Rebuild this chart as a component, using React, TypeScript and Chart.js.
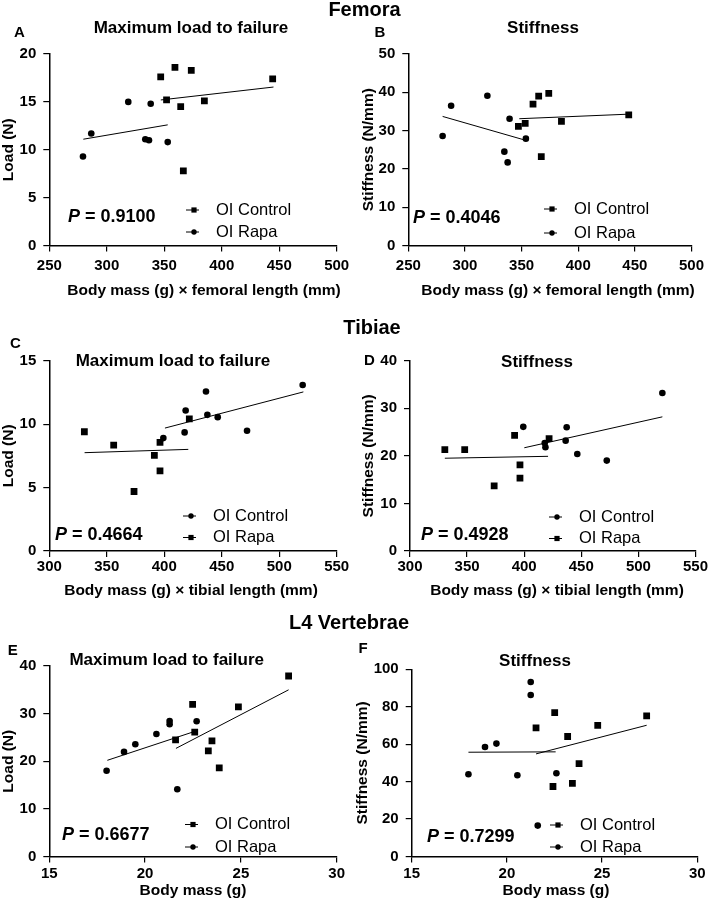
import React, { useEffect, useRef } from 'react';
import { Chart, registerables } from 'chart.js';

Chart.register(...registerables);

const FONT = "'Liberation Sans', Arial, Helvetica, sans-serif";

type Pt = [number, number];

// ---------- Data ----------
// A: Femora, maximum load to failure
const femurLoadControl: Pt[] = [[346.9, 17.6], [359.3, 18.6], [373.5, 18.3], [444.3, 17.4], [352.0, 15.2], [364.3, 14.5], [384.9, 15.1], [366.6, 7.8]];
const femurLoadRapa: Pt[] = [[279.3, 9.3], [286.5, 11.7], [318.7, 15.0], [338.2, 14.8], [333.5, 11.1], [336.7, 11.0], [353.0, 10.8]];
const femurLoadControlFit: Pt[] = [[347.0, 15.2], [445.0, 16.55]];
const femurLoadRapaFit: Pt[] = [[279.6, 11.1], [353.0, 12.6]];

// B: Femora, stiffness
const femurStiffControl: Pt[] = [[347.2, 31.1], [353.2, 31.9], [360.1, 36.9], [365.1, 39.0], [374.0, 39.7], [444.6, 34.1], [385.2, 32.4], [367.4, 23.2]];
const femurStiffRapa: Pt[] = [[280.3, 28.6], [287.8, 36.5], [319.8, 39.1], [339.4, 33.1], [334.8, 24.5], [337.7, 21.7], [353.8, 27.9]];
const femurStiffControlFit: Pt[] = [[348.0, 33.1], [445.2, 34.3]];
const femurStiffRapaFit: Pt[] = [[280.3, 33.7], [352.0, 27.6]];

// C: Tibiae, maximum load to failure
const tibiaLoadControl: Pt[] = [[399.2, 8.9], [418.6, 11.07], [417.7, 9.35], [436.3, 12.57], [437.5, 10.73], [446.5, 10.55], [472.0, 9.48], [520.4, 13.09]];
const tibiaLoadRapa: Pt[] = [[330.5, 9.4], [356.0, 8.35], [391.4, 7.54], [396.3, 8.56], [396.3, 6.31], [373.7, 4.69], [421.8, 10.42]];
const tibiaLoadControlFit: Pt[] = [[400.6, 9.69], [521.0, 12.54]];
const tibiaLoadRapaFit: Pt[] = [[330.7, 7.75], [420.9, 8.01]];

// D: Tibiae, stiffness
const tibiaStiffControl: Pt[] = [[399.2, 26.1], [418.0, 22.7], [418.6, 21.8], [437.2, 26.0], [436.3, 23.2], [446.5, 20.4], [472.3, 19.0], [521.0, 33.2]];
const tibiaStiffRapa: Pt[] = [[330.5, 21.3], [347.9, 21.3], [373.7, 13.7], [391.6, 24.3], [396.3, 18.1], [396.3, 15.3], [421.8, 23.6]];
const tibiaStiffControlFit: Pt[] = [[400.1, 21.7], [521.0, 28.2]];
const tibiaStiffRapaFit: Pt[] = [[330.5, 19.5], [420.9, 19.9]];

// E: L4 vertebrae, maximum load to failure
const vertLoadControl: Pt[] = [[22.48, 31.96], [24.87, 31.4], [27.49, 37.9], [22.59, 26.1], [21.59, 24.5], [23.49, 24.3], [23.3, 22.2], [23.87, 18.6]];
const vertLoadRapa: Pt[] = [[17.99, 18.0], [18.9, 21.96], [19.49, 23.57], [20.59, 25.73], [21.28, 28.46], [21.28, 27.76], [22.69, 28.39], [21.68, 14.13]];
const vertLoadControlFit: Pt[] = [[21.61, 22.7], [27.49, 35.0]];
const vertLoadRapaFit: Pt[] = [[18.03, 20.2], [22.69, 26.4]];

// F: L4 vertebrae, stiffness
const vertStiffControl: Pt[] = [[21.53, 68.7], [22.51, 76.9], [23.19, 64.1], [24.77, 70.1], [27.34, 75.1], [23.79, 49.6], [23.44, 39.1], [22.42, 37.4]];
const vertStiffRapa: Pt[] = [[17.98, 43.95], [18.85, 58.5], [19.45, 60.3], [20.55, 43.4], [21.25, 93.2], [21.25, 86.3], [22.6, 44.5], [21.62, 16.5]];
const vertStiffControlFit: Pt[] = [[21.53, 54.8], [27.34, 70.1]];
const vertStiffRapaFit: Pt[] = [[17.98, 55.7], [22.56, 55.9]];

const pValues = ['0.9100', '0.4046', '0.4664', '0.4928', '0.6677', '0.7299'];
const sectionTitles = ['Femora', 'Tibiae', 'L4 Vertebrae'];
const panelLetters = ['A', 'B', 'C', 'D', 'E', 'F'];
const panelTitles = ['Maximum load to failure', 'Stiffness', 'Maximum load to failure', 'Stiffness', 'Maximum load to failure', 'Stiffness'];
const xTitles = [
  'Body mass (g) \u00d7 femoral length (mm)',
  'Body mass (g) \u00d7 femoral length (mm)',
  'Body mass (g) \u00d7 tibial length (mm)',
  'Body mass (g) \u00d7 tibial length (mm)',
  'Body mass (g)',
  'Body mass (g)',
];
const yTitles = ['Load (N)', 'Stiffness (N/mm)', 'Load (N)', 'Stiffness (N/mm)', 'Load (N)', 'Stiffness (N/mm)'];
const groupNames = ['OI Control', 'OI Rapa'];

// ---------- Layout ----------
type Series = { label: string; shape: 'square' | 'circle'; points: Pt[]; fit: Pt[] };
type Panel = {
  idx: number;
  series: Series[];
  xr: [number, number, number];
  yr: [number, number, number];
  L: number; R: number; T: number; B: number;
  yTitleX: number;
  xTitlePos: [number, number];
  titlePos: [number, number];
  letterPos: [number, number];
  pPos: [number, number];
  legX: number; legY: [number, number];
  xTickPad: number;
  header?: [number, number, number];
};

const panels: Panel[] = [
  {
    idx: 0,
    series: [
      { label: groupNames[0], shape: 'square', points: femurLoadControl, fit: femurLoadControlFit },
      { label: groupNames[1], shape: 'circle', points: femurLoadRapa, fit: femurLoadRapaFit },
    ],
    xr: [250, 500, 50], yr: [0, 20, 5],
    L: 49.3, R: 336.7, T: 54, B: 245.5,
    yTitleX: 8.5, xTitlePos: [204, 291], titlePos: [191, 28], letterPos: [19.5, 33], pPos: [68, 217],
    legX: 216, legY: [210, 232], xTickPad: 5, header: [0, 364.5, 10.5],
  },
  {
    idx: 1,
    series: [
      { label: groupNames[0], shape: 'square', points: femurStiffControl, fit: femurStiffControlFit },
      { label: groupNames[1], shape: 'circle', points: femurStiffRapa, fit: femurStiffRapaFit },
    ],
    xr: [250, 500, 50], yr: [0, 50, 10],
    L: 408.3, R: 697.3, T: 54, B: 245.5,
    yTitleX: 369, xTitlePos: [558, 291], titlePos: [543, 28], letterPos: [380, 33], pPos: [413, 218],
    legX: 574, legY: [209, 233], xTickPad: 5,
  },
  {
    idx: 2,
    series: [
      { label: groupNames[0], shape: 'circle', points: tibiaLoadControl, fit: tibiaLoadControlFit },
      { label: groupNames[1], shape: 'square', points: tibiaLoadRapa, fit: tibiaLoadRapaFit },
    ],
    xr: [300, 550, 50], yr: [0, 15, 5],
    L: 49.3, R: 336.7, T: 360.7, B: 551,
    yTitleX: 9, xTitlePos: [191, 591], titlePos: [173, 361], letterPos: [15.3, 344], pPos: [55, 535],
    legX: 213, legY: [516, 537.5], xTickPad: 1, header: [1, 372, 328],
  },
  {
    idx: 3,
    series: [
      { label: groupNames[0], shape: 'circle', points: tibiaStiffControl, fit: tibiaStiffControlFit },
      { label: groupNames[1], shape: 'square', points: tibiaStiffRapa, fit: tibiaStiffRapaFit },
    ],
    xr: [300, 550, 50], yr: [0, 40, 10],
    L: 410, R: 697.3, T: 360.7, B: 551,
    yTitleX: 369, xTitlePos: [557, 591], titlePos: [537, 362], letterPos: [369.3, 361], pPos: [421, 535.5],
    legX: 579, legY: [517, 538.5], xTickPad: 1,
  },
  {
    idx: 4,
    series: [
      { label: groupNames[0], shape: 'square', points: vertLoadControl, fit: vertLoadControlFit },
      { label: groupNames[1], shape: 'circle', points: vertLoadRapa, fit: vertLoadRapaFit },
    ],
    xr: [15, 30, 5], yr: [0, 40, 10],
    L: 49.3, R: 336.7, T: 666, B: 856.5,
    yTitleX: 9, xTitlePos: [193, 891], titlePos: [166.7, 660], letterPos: [12.8, 651], pPos: [62, 835],
    legX: 215, legY: [824.5, 847], xTickPad: 2, header: [2, 349, 623],
  },
  {
    idx: 5,
    series: [
      { label: groupNames[0], shape: 'square', points: vertStiffControl, fit: vertStiffControlFit },
      { label: groupNames[1], shape: 'circle', points: vertStiffRapa, fit: vertStiffRapaFit },
    ],
    xr: [15, 30, 5], yr: [0, 100, 20],
    L: 411.7, R: 697.3, T: 669.3, B: 856.5,
    yTitleX: 363, xTitlePos: [556, 891], titlePos: [535, 661], letterPos: [363.2, 649], pPos: [427, 837.5],
    legX: 580, legY: [825, 847], xTickPad: 2,
  },
];

const W = 709;
const H = 902;
const Y_TITLE_SIZE = 15.5;
const X_AXIS_H = 30;

function drawMarker(ctx: CanvasRenderingContext2D, shape: string, x: number, y: number, r: number) {
  ctx.beginPath();
  if (shape === 'square') ctx.rect(x - r, y - r, 2 * r, 2 * r);
  else ctx.arc(x, y, r, 0, Math.PI * 2);
  ctx.fill();
}

function PanelChart({ p }: { p: Panel }) {
  const ref = useRef<HTMLCanvasElement>(null);
  useEffect(() => {
    const canvas = ref.current;
    if (!canvas) return;
    const datasets: any[] = [];
    p.series.forEach((s) => {
      datasets.push({
        label: s.label,
        data: s.points.map(([x, y]) => ({ x, y })),
        pointStyle: s.shape === 'square' ? 'rect' : 'circle',
        pointRadius: s.shape === 'square' ? 4.8 : 3.3,
        backgroundColor: '#000',
        borderColor: '#000',
        borderWidth: 0,
        showLine: false,
      });
      datasets.push({
        label: s.label + ' fit',
        data: s.fit.map(([x, y]) => ({ x, y })),
        showLine: true,
        pointRadius: 0,
        borderColor: '#000',
        borderWidth: 1,
        fill: false,
      });
    });

    const padLeft = p.yTitleX - Y_TITLE_SIZE / 2;
    const yW = p.L - padLeft;

    const annot = {
      id: 'annot' + p.idx,
      afterDraw(chart: any) {
        const ctx: CanvasRenderingContext2D = chart.ctx;
        ctx.save();
        ctx.fillStyle = '#000';
        ctx.strokeStyle = '#000';
        ctx.textBaseline = 'middle';
        // section header
        if (p.header) {
          ctx.font = `bold 20px ${FONT}`;
          ctx.textAlign = 'center';
          ctx.fillText(sectionTitles[p.header[0]], p.header[1], p.header[2]);
        }
        // panel letter
        ctx.font = `bold 15px ${FONT}`;
        ctx.textAlign = 'center';
        ctx.fillText(panelLetters[p.idx], p.letterPos[0], p.letterPos[1]);
        // panel title
        ctx.font = `bold 17px ${FONT}`;
        ctx.fillText(panelTitles[p.idx], p.titlePos[0], p.titlePos[1]);
        // x axis title
        ctx.font = `bold 15.5px ${FONT}`;
        ctx.fillText(xTitles[p.idx], p.xTitlePos[0], p.xTitlePos[1]);
        // P value
        ctx.textAlign = 'left';
        ctx.font = `italic bold 18px ${FONT}`;
        ctx.fillText('P', p.pPos[0], p.pPos[1]);
        const pw = ctx.measureText('P').width;
        ctx.font = `bold 18px ${FONT}`;
        ctx.fillText(' = ' + pValues[p.idx], p.pPos[0] + pw, p.pPos[1]);
        // legend
        ctx.font = `16.5px ${FONT}`;
        p.series.forEach((s, i) => {
          const y = p.legY[i];
          ctx.lineWidth = 1;
          ctx.beginPath();
          ctx.moveTo(p.legX - 30, y);
          ctx.lineTo(p.legX - 17, y);
          ctx.stroke();
          drawMarker(ctx, s.shape, p.legX - 22, y, s.shape === 'square' ? 2.6 : 2.7);
          ctx.fillText(s.label, p.legX, y);
        });
        ctx.restore();
      },
    };

    const tickFont = { family: FONT, size: 15, weight: 'bold' as const };
    const chart = new Chart(canvas, {
      type: 'scatter',
      data: { datasets },
      options: {
        animation: false,
        responsive: false,
        devicePixelRatio: 1,
        events: [],
        layout: {
          padding: {
            left: padLeft,
            top: p.T,
            right: W - p.R,
            bottom: H - p.B - X_AXIS_H,
          },
        },
        plugins: {
          legend: { display: false },
          tooltip: { enabled: false },
          title: { display: false },
        },
        scales: {
          x: {
            type: 'linear',
            position: 'bottom',
            min: p.xr[0],
            max: p.xr[1],
            afterFit: (s: any) => { s.height = X_AXIS_H; },
            ticks: { stepSize: p.xr[2], font: tickFont, color: '#000', padding: p.xTickPad, maxRotation: 0 },
            grid: { display: true, drawOnChartArea: false, drawTicks: true, tickLength: 6, color: '#000', lineWidth: 1.2 },
            border: { display: true, color: '#000', width: 1.5 },
          },
          y: {
            type: 'linear',
            position: 'left',
            min: p.yr[0],
            max: p.yr[1],
            afterFit: (s: any) => { s.width = yW; },
            ticks: { stepSize: p.yr[2], font: tickFont, color: '#000', padding: 7 },
            grid: { display: true, drawOnChartArea: false, drawTicks: true, tickLength: 6, color: '#000', lineWidth: 1.2 },
            border: { display: true, color: '#000', width: 1.5 },
            title: {
              display: true,
              text: yTitles[p.idx],
              color: '#000',
              font: { family: FONT, size: Y_TITLE_SIZE, weight: 'bold', lineHeight: 1 },
              padding: { top: 0, bottom: 0 },
            },
          },
        },
      } as any,
      plugins: [annot],
    });
    return () => chart.destroy();
  }, [p]);
  return (
    <canvas
      ref={ref}
      width={W}
      height={H}
      style={{ position: 'absolute', left: 0, top: 0, width: W, height: H }}
    />
  );
}

export default function App() {
  return (
    <div style={{ position: 'absolute', left: 0, top: 0, width: W, height: H, background: '#fff' }}>
      {panels.map((p) => (
        <PanelChart key={p.idx} p={p} />
      ))}
    </div>
  );
}
